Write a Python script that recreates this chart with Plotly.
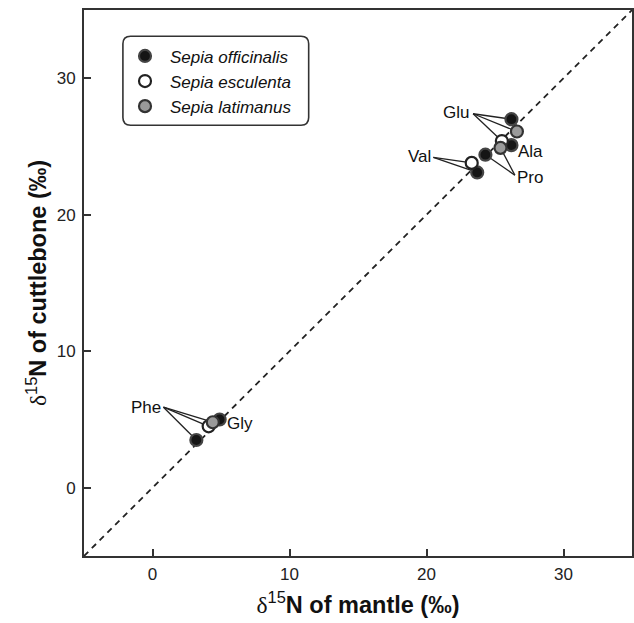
import plotly.graph_objects as go

# ---- data ----
species = ["Sepia officinalis", "Sepia esculenta", "Sepia latimanus"]

off_amino = ["Phe", "Gly", "Val", "Pro", "Ala", "Glu"]
off_mantle = [3.2, 4.9, 23.7, 24.3, 26.2, 26.2]
off_cuttle = [3.5, 5.0, 23.1, 24.4, 25.1, 27.0]

esc_amino = ["Phe", "Val", "Glu"]
esc_mantle = [4.1, 23.3, 25.5]
esc_cuttle = [4.5, 23.8, 25.4]

lat_amino = ["Phe", "Pro", "Glu"]
lat_mantle = [4.4, 25.4, 26.6]
lat_cuttle = [4.8, 24.9, 26.1]

label_names = ["Glu", "Val", "Pro", "Ala", "Phe", "Gly"]
label_x = [22.15, 19.5, 27.55, 27.6, -0.5, 6.4]
label_y = [27.5, 24.25, 22.75, 24.6, 5.9, 4.7]
# start of leader lines for each label
leader_x = [23.4, 20.5, 26.45, None, 0.8, None]
leader_y = [27.4, 24.2, 22.9, None, 5.9, None]

axis_ticks = [0, 10, 20, 30]
axis_range = [-5, 35]

fig = go.Figure()

# 1:1 line
fig.add_trace(go.Scatter(x=axis_range, y=axis_range, mode="lines",
                         line=dict(color="#222", width=1.8, dash="6px,5px"),
                         showlegend=False, hoverinfo="skip"))

styles = [
    (off_mantle, off_cuttle, off_amino, "#151515", "#444444"),
    (esc_mantle, esc_cuttle, esc_amino, "#ffffff", "#222222"),
    (lat_mantle, lat_cuttle, lat_amino, "#9a9a9a", "#333333"),
]

# leader lines (drawn under the markers)
all_sets = [(off_mantle, off_cuttle, off_amino), (esc_mantle, esc_cuttle, esc_amino),
            (lat_mantle, lat_cuttle, lat_amino)]
shapes = []
for name, lx, ly in zip(label_names, leader_x, leader_y):
    if lx is None:
        continue
    for xs, ys, am in all_sets:
        for xv, yv, a in zip(xs, ys, am):
            if a == name:
                shapes.append(dict(type="line", xref="x", yref="y", x0=lx, y0=ly, x1=xv, y1=yv,
                                   line=dict(color="#222", width=1.3), layer="below"))

for sp, (xs, ys, am, fill, edge) in zip(species, styles):
    fig.add_trace(go.Scatter(x=xs, y=ys, mode="markers", name=sp, text=am,
                             legendgroup=sp,
                             marker=dict(size=12, color=fill, line=dict(color=edge, width=2.2))))

for name, lx, ly in zip(label_names, label_x, label_y):
    fig.add_annotation(x=lx, y=ly, xref="x", yref="y", text=name, showarrow=False,
                       font=dict(size=17, color="#111", family="Liberation Sans, Arial"))

# rounded legend box (paper coords)
x0, x1, y0, y1 = 0.071, 0.410, 0.789, 0.952
r = 0.014
path = (f"M {x0+r},{y1} L {x1-r},{y1} Q {x1},{y1} {x1},{y1-r} L {x1},{y0+r} Q {x1},{y0} {x1-r},{y0} "
        f"L {x0+r},{y0} Q {x0},{y0} {x0},{y0+r} L {x0},{y1-r} Q {x0},{y1} {x0+r},{y1} Z")
shapes.append(dict(type="path", xref="paper", yref="paper", path=path,
                   line=dict(color="#333", width=1.6), fillcolor="rgba(0,0,0,0)"))

def title(t):
    return ('<span style="font-family:Liberation Serif;font-weight:normal">δ</span>'
            '<sup style="font-weight:normal">15</sup>' + t)

axis_common = dict(range=axis_range, tickvals=axis_ticks, ticks="inside", ticklen=7, tickwidth=1.5,
                   tickcolor="#333", showline=True, linecolor="#333", linewidth=2, mirror=True,
                   showgrid=False, zeroline=False, automargin=False,
                   tickfont=dict(size=17, color="#222", family="Liberation Sans, Arial"))

fig.update_layout(
    width=634, height=623,
    margin=dict(l=84, r=2, t=10, b=67),
    plot_bgcolor="white", paper_bgcolor="white",
    shapes=shapes,
    showlegend=True,
    legend=dict(x=0.0657, y=0.948, xanchor="left", yanchor="top", bgcolor="rgba(0,0,0,0)",
                borderwidth=0, tracegroupgap=0, itemwidth=40,
                font=dict(size=17, color="#111", family="Liberation Sans, Arial", style="italic")),
    xaxis=dict(**axis_common, ticklabelstandoff=2,
               title=dict(text=title("N of mantle (‰)"), standoff=13,
                          font=dict(size=23.5, color="#111", family="Liberation Sans, Arial", weight="bold"))),
    yaxis=dict(**axis_common, ticklabelstandoff=3,
               title=dict(text=title("N of cuttlebone (‰)"), standoff=3,
                          font=dict(size=23.5, color="#111", family="Liberation Sans, Arial", weight="bold"))),
)

fig.write_html("out.html", post_script="document.body.style.margin='0px';",
               config={"displayModeBar": False})
